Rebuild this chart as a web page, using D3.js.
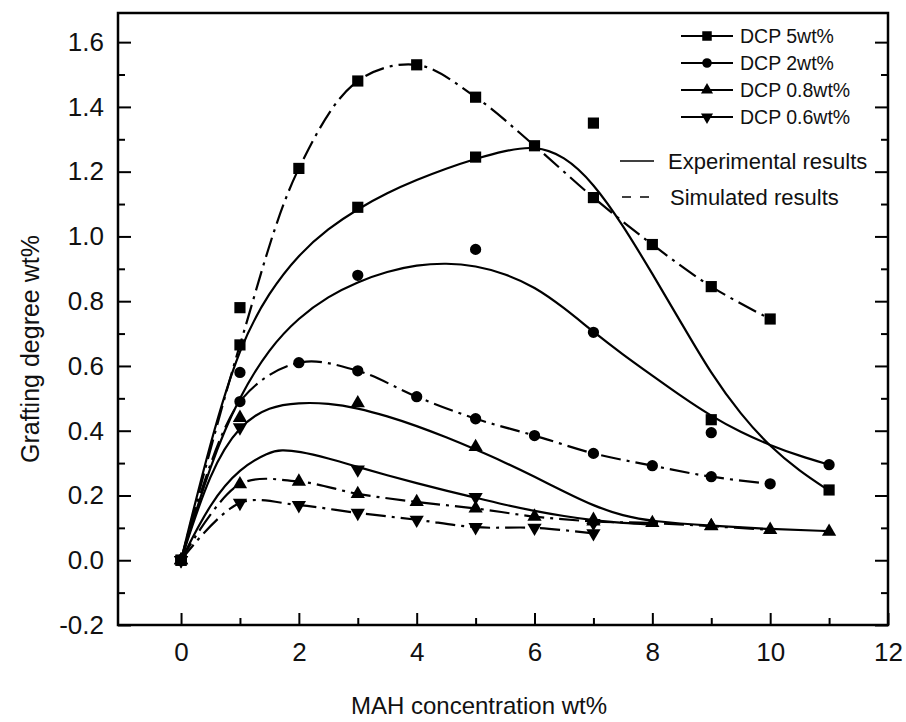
<!DOCTYPE html>
<html>
<head>
<meta charset="utf-8">
<script src="https://cdn.jsdelivr.net/npm/d3@7"></script>
<style>
  html, body { margin: 0; padding: 0; background: #fff; }
  svg { display: block; }
  text { font-family: "Liberation Sans", Arial, Helvetica, sans-serif; fill: #111; }
</style>
</head>
<body>
<svg id="chart" width="906" height="722"></svg>
<script>
// ---------------- DATA ----------------
const seriesNames = ["DCP 5wt%", "DCP 2wt%", "DCP 0.8wt%", "DCP 0.6wt%"];
const seriesSymbols = ["square", "circle", "triangle", "triangleDown"];

// Simulated results (dash-dot lines with markers)
const simX5 = [0, 1, 2, 3, 4, 5, 6, 7, 8, 9, 10];
const simY5 = [0, 0.665, 1.21, 1.48, 1.53, 1.43, 1.28, 1.12, 0.975, 0.845, 0.745];
const simX2 = [0, 1, 2, 3, 4, 5, 6, 7, 8, 9, 10];
const simY2 = [0, 0.49, 0.61, 0.585, 0.505, 0.437, 0.385, 0.33, 0.292, 0.258, 0.236];
const simX08 = [0, 1, 2, 3, 4, 5, 6, 7, 8, 9, 10];
const simY08 = [0, 0.235, 0.243, 0.205, 0.18, 0.16, 0.135, 0.12, 0.115, 0.105, 0.094];
const simX06 = [0, 1, 2, 3, 4, 5, 6, 7];
const simY06 = [0, 0.177, 0.17, 0.146, 0.125, 0.102, 0.1, 0.083];

// Experimental results (markers)
const expX5 = [0, 1, 3, 5, 7, 9, 11];
const expY5 = [0, 0.78, 1.09, 1.245, 1.35, 0.434, 0.217];
const expX2 = [0, 1, 3, 5, 7, 9, 11];
const expY2 = [0, 0.58, 0.88, 0.96, 0.704, 0.394, 0.295];
const expX08 = [0, 1, 3, 5, 7, 9, 11];
const expY08 = [0, 0.44, 0.485, 0.35, 0.125, 0.106, 0.088];
const expX06 = [0, 1, 3, 5, 7];
const expY06 = [0, 0.41, 0.28, 0.195, 0.115];

// Experimental fitted curves (solid lines)
const fitX5 = [0, 0.5, 1, 1.5, 2, 2.5, 3, 3.5, 4, 4.5, 5, 5.5, 6, 6.5, 7, 7.5, 8, 8.5, 9, 9.5, 10, 10.5, 11];
const fitY5 = [0, 0.37, 0.665, 0.83, 0.945, 1.025, 1.085, 1.135, 1.175, 1.21, 1.24, 1.265, 1.28, 1.25, 1.165, 1.035, 0.885, 0.73, 0.575, 0.45, 0.35, 0.275, 0.215];
const fitX2 = [0, 0.5, 1, 1.5, 2, 2.5, 3, 3.5, 4, 4.5, 5, 5.5, 6, 6.5, 7, 7.5, 8, 8.5, 9, 9.5, 10, 10.5, 11];
const fitY2 = [0, 0.3, 0.51, 0.655, 0.75, 0.815, 0.86, 0.892, 0.912, 0.918, 0.91, 0.885, 0.845, 0.78, 0.705, 0.635, 0.57, 0.505, 0.445, 0.395, 0.355, 0.322, 0.295];
const fitX08 = [0, 0.5, 1, 1.5, 2, 2.5, 3, 3.5, 4, 4.5, 5, 5.5, 6, 6.5, 7, 7.5, 8, 9, 10, 11];
const fitY08 = [0, 0.28, 0.42, 0.475, 0.487, 0.485, 0.47, 0.445, 0.415, 0.38, 0.342, 0.302, 0.258, 0.212, 0.168, 0.137, 0.12, 0.106, 0.096, 0.09];
const fitX06 = [0, 0.5, 1, 1.5, 1.7, 2, 2.5, 3, 3.5, 4, 4.5, 5, 5.5, 6, 6.5, 7, 7.5, 8];
const fitY06 = [0, 0.18, 0.285, 0.335, 0.341, 0.337, 0.315, 0.288, 0.262, 0.238, 0.215, 0.193, 0.171, 0.152, 0.136, 0.123, 0.115, 0.11];

// Axes
const xMajorTicks = [0, 2, 4, 6, 8, 10, 12];
const xMinorTicks = [1, 3, 5, 7, 9, 11];
const yMajorTicks = [-0.2, 0.0, 0.2, 0.4, 0.6, 0.8, 1.0, 1.2, 1.4, 1.6];
const yMinorTicks = [-0.1, 0.1, 0.3, 0.5, 0.7, 0.9, 1.1, 1.3, 1.5];
const xTitle = "MAH concentration wt%";
const yTitle = "Grafting degree wt%";
const legendLineLabels = ["Experimental results", "Simulated results"];

// ---------------- DRAWING ----------------
const svg = d3.select("#chart");
const L = 118, R = 888, T = 13, B = 625;
const x = d3.scaleLinear().domain([-1.07, 12]).range([L, R]);
const y = d3.scaleLinear().domain([-0.2, 1.69]).range([B, T]);

const zip = (xs, ys) => xs.map((v, i) => [v, ys[i]]);

const symbolGen = {
  square: d3.symbol().type(d3.symbolSquare).size(125),
  circle: d3.symbol().type(d3.symbolCircle).size(100),
  triangle: d3.symbol().type(d3.symbolTriangle).size(88),
  triangleDown: d3.symbol().type(d3.symbolTriangle).size(88)
};
function drawMarker(g, kind, px, py, scale) {
  const s = scale || 1;
  const rot = kind === "triangleDown" ? " rotate(180)" : "";
  g.append("path")
    .attr("d", symbolGen[kind]())
    .attr("transform", `translate(${px},${py}) scale(${s})${rot}`)
    .attr("fill", "#000");
}

// Axes (inward ticks)
function styleAxis(g) {
  g.select(".domain").remove();
  g.selectAll(".tick line").attr("stroke", "#000").attr("stroke-width", 2);
  g.selectAll(".tick text").attr("font-size", 26).attr("fill", "#111")
    .attr("font-family", '"Liberation Sans", Arial, sans-serif');
}
svg.append("g").attr("transform", `translate(0,${B})`)
  .call(d3.axisBottom(x).tickValues(xMajorTicks).tickSize(-12).tickPadding(18).tickFormat(d => String(d)))
  .call(styleAxis);
svg.append("g").attr("transform", `translate(0,${B})`)
  .call(d3.axisBottom(x).tickValues(xMinorTicks).tickSize(-7).tickFormat(""))
  .call(styleAxis);
svg.append("g").attr("transform", `translate(${L},0)`)
  .call(d3.axisLeft(y).tickValues(yMajorTicks).tickSize(-13).tickPadding(14).tickFormat(d => d.toFixed(1)))
  .call(styleAxis);
svg.append("g").attr("transform", `translate(${L},0)`)
  .call(d3.axisLeft(y).tickValues(yMinorTicks).tickSize(-7).tickFormat(""))
  .call(styleAxis);
svg.append("g").attr("transform", `translate(${R},0)`)
  .call(d3.axisRight(y).tickValues(yMajorTicks).tickSize(-13).tickFormat(""))
  .call(styleAxis);
svg.append("g").attr("transform", `translate(${R},0)`)
  .call(d3.axisRight(y).tickValues(yMinorTicks).tickSize(-7).tickFormat(""))
  .call(styleAxis);

// Frame
svg.append("rect").attr("x", L).attr("y", T).attr("width", R - L).attr("height", B - T)
  .attr("fill", "none").attr("stroke", "#000").attr("stroke-width", 2.5);

// Lines
const fitLine = d3.line().x(d => x(d[0])).y(d => y(d[1])).curve(d3.curveBasis);
const simLine = d3.line().x(d => x(d[0])).y(d => y(d[1])).curve(d3.curveCatmullRom.alpha(0.5));
const plot = svg.append("g");

const fits = [zip(fitX5, fitY5), zip(fitX2, fitY2), zip(fitX08, fitY08), zip(fitX06, fitY06)];
const sims = [zip(simX5, simY5), zip(simX2, simY2), zip(simX08, simY08), zip(simX06, simY06)];
const exps = [zip(expX5, expY5), zip(expX2, expY2), zip(expX08, expY08), zip(expX06, expY06)];

fits.forEach(pts => plot.append("path").attr("d", fitLine(pts)).attr("fill", "none")
  .attr("stroke", "#000").attr("stroke-width", 2.2));
sims.forEach(pts => plot.append("path").attr("d", simLine(pts)).attr("fill", "none")
  .attr("stroke", "#000").attr("stroke-width", 2.2).attr("stroke-dasharray", "20,6,3,6"));

const mk = svg.append("g");
sims.forEach((pts, i) => pts.forEach(p => drawMarker(mk, seriesSymbols[i], x(p[0]), y(p[1]))));
exps.forEach((pts, i) => pts.forEach(p => drawMarker(mk, seriesSymbols[i], x(p[0]), y(p[1]))));

// Axis titles
svg.append("text").attr("x", 479).attr("y", 714).attr("text-anchor", "middle")
  .attr("font-size", 24).text(xTitle);
svg.append("text").attr("transform", "translate(39,349) rotate(-90)").attr("text-anchor", "middle")
  .attr("font-size", 25).text(yTitle);

// Legend
const leg = svg.append("g");
const legRowsY = [36, 63, 90, 117];
seriesNames.forEach((name, i) => {
  const cy = legRowsY[i];
  leg.append("line").attr("x1", 681).attr("x2", 733).attr("y1", cy).attr("y2", cy)
    .attr("stroke", "#000").attr("stroke-width", 2.2);
  drawMarker(leg, seriesSymbols[i], 707, cy, 0.85);
  leg.append("text").attr("x", 740).attr("y", cy + 7).attr("font-size", 19.5).text(name);
});
leg.append("line").attr("x1", 620).attr("x2", 654).attr("y1", 161).attr("y2", 161)
  .attr("stroke", "#000").attr("stroke-width", 1.6);
leg.append("text").attr("x", 668).attr("y", 169).attr("font-size", 22).text(legendLineLabels[0]);
leg.append("line").attr("x1", 622).attr("x2", 652).attr("y1", 197).attr("y2", 197)
  .attr("stroke", "#000").attr("stroke-width", 1.6).attr("stroke-dasharray", "9,9");
leg.append("text").attr("x", 670).attr("y", 205).attr("font-size", 22).text(legendLineLabels[1]);
</script>
</body>
</html>
